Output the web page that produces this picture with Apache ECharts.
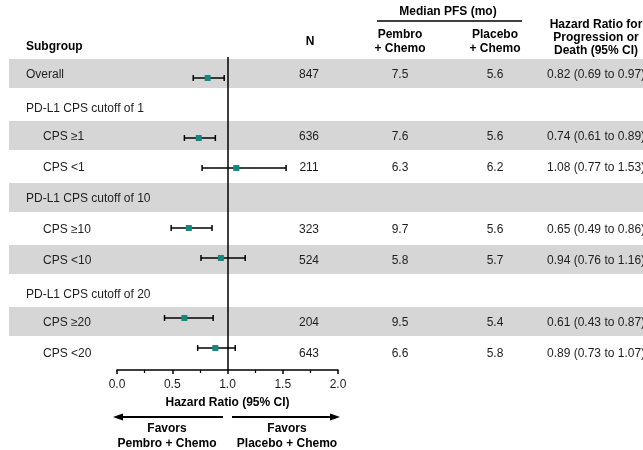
<!DOCTYPE html>
<html><head><meta charset="utf-8">
<script src="https://cdn.jsdelivr.net/npm/echarts@6/dist/echarts.min.js"></script>
<style>html,body{margin:0;padding:0;background:#fff}#c{width:643px;height:450px}</style>
</head><body><div id="c"></div>
<script>
// ---------------- data ----------------
const rowLabels = ['Overall', 'PD-L1 CPS cutoff of 1', 'CPS ≥1', 'CPS <1', 'PD-L1 CPS cutoff of 10', 'CPS ≥10', 'CPS <10', 'PD-L1 CPS cutoff of 20', 'CPS ≥20', 'CPS <20'];
const rowLevel = [0, 0, 1, 1, 0, 1, 1, 0, 1, 1];
const nPatients = [847, null, 636, 211, null, 323, 524, null, 204, 643];
const pembroMedian = [7.5, null, 7.6, 6.3, null, 9.7, 5.8, null, 9.5, 6.6];
const placeboMedian = [5.6, null, 5.6, 6.2, null, 5.6, 5.7, null, 5.4, 5.8];
const hazardRatio = [0.82, null, 0.74, 1.08, null, 0.65, 0.94, null, 0.61, 0.89];
const ciLow = [0.69, null, 0.61, 0.77, null, 0.49, 0.76, null, 0.43, 0.73];
const ciHigh = [0.97, null, 0.89, 1.53, null, 0.86, 1.16, null, 0.87, 1.07];
const shadedRows = [0, 2, 4, 6, 8];
const xTickValues = [0, 0.5, 1, 1.5, 2];

// ---------------- layout ----------------
const FONT = '"Liberation Sans", Arial, Helvetica, sans-serif';
const INK = '#1e1e1e';
const TEAL = '#14897b';
const BAND = '#d6d6d6';
const GRID_TOP = 57, GRID_H = 313, GRID_LEFT = 117, GRID_RIGHT = 305;
const ROW_PITCH = 31, FIRST_ROW_Y = 73.5;   // table rows
const MARK_PITCH = 30, FIRST_MARK_Y = 78;   // forest marks
const rowMin = -(FIRST_ROW_Y - GRID_TOP) / ROW_PITCH;
const rowMax = rowMin + GRID_H / ROW_PITCH;
const markMin = -(FIRST_MARK_Y - GRID_TOP) / MARK_PITCH;
const markMax = markMin + GRID_H / MARK_PITCH;
const COL = { sub: 26, subIndent: 43, n: 309, pembro: 400, placebo: 495, hr: 547 };

function T(x, y, text, o) {
  o = o || {};
  const a = o.align || 'left';
  return {
    type: 'text', x: x, y: y, z2: 10,
    style: {
      text: text, fill: o.fill || INK, fontSize: o.size || 12, fontFamily: FONT,
      fontWeight: o.bold ? 'bold' : 'normal', lineHeight: o.lh || 14,
      align: a, textAlign: a, verticalAlign: 'middle', textVerticalAlign: 'middle'
    }
  };
}

const markData = [];
hazardRatio.forEach((v, i) => { if (v != null) markData.push([v, i, ciLow[i], ciHigh[i]]); });

const chart = echarts.init(document.getElementById('c'), null, { renderer: 'canvas' });
chart.setOption({
  animation: false,
  backgroundColor: '#fff',
  grid: { left: GRID_LEFT, right: GRID_RIGHT, top: GRID_TOP, height: GRID_H, containLabel: false },
  xAxis: {
    type: 'value', min: xTickValues[0], max: xTickValues[xTickValues.length - 1], interval: 0.5,
    position: 'bottom', z: 6,
    axisLine: { show: true, onZero: false, lineStyle: { color: '#000', width: 1.5 } },
    axisTick: { show: true, length: 4, lineStyle: { color: '#000', width: 1.5 } },
    minorTick: { show: true, splitNumber: 2, length: 3, lineStyle: { color: '#000', width: 1.2 } },
    splitLine: { show: false },
    axisLabel: { color: INK, fontSize: 12, fontFamily: FONT, margin: 9, formatter: v => v.toFixed(1) },
    name: 'Hazard Ratio (95% CI)', nameLocation: 'middle', nameGap: 27,
    nameTextStyle: { color: '#000', fontSize: 12, fontWeight: 'bold', fontFamily: FONT }
  },
  yAxis: [
    { type: 'value', min: rowMin, max: rowMax, inverse: true, show: false },
    { type: 'value', min: markMin, max: markMax, inverse: true, show: false }
  ],
  series: [
    { // shaded row bands
      type: 'custom', yAxisIndex: 0, z: 1, silent: true,
      data: shadedRows.map(r => [0, r]),
      encode: { x: 0, y: 1 },
      renderItem: function (params, api) {
        const c = api.coord([0, api.value(1)]);
        return { type: 'rect', shape: { x: 9, y: c[1] - 14.5, width: 640, height: 29 }, style: { fill: BAND } };
      }
    },
    { // table text
      type: 'custom', yAxisIndex: 0, z: 5, silent: true,
      data: rowLabels.map((_, i) => [0, i]),
      encode: { x: 0, y: 1 },
      renderItem: function (params, api) {
        const i = api.value(1);
        const shaded = shadedRows.indexOf(i) >= 0;
        const dy = (rowLevel[i] === 0 && !shaded) ? 4 : 1;
        const y = api.coord([0, i])[1] + dy;
        const kids = [T(rowLevel[i] ? COL.subIndent : COL.sub, y, rowLabels[i])];
        if (nPatients[i] != null) kids.push(T(COL.n, y, String(nPatients[i]), { align: 'center' }));
        if (pembroMedian[i] != null) kids.push(T(COL.pembro, y, pembroMedian[i].toFixed(1), { align: 'center' }));
        if (placeboMedian[i] != null) kids.push(T(COL.placebo, y, placeboMedian[i].toFixed(1), { align: 'center' }));
        if (hazardRatio[i] != null) kids.push(T(COL.hr, y,
          hazardRatio[i].toFixed(2) + ' (' + ciLow[i].toFixed(2) + ' to ' + ciHigh[i].toFixed(2) + ')'));
        return { type: 'group', children: kids };
      }
    },
    { // reference line at HR = 1
      type: 'scatter', yAxisIndex: 1, data: [], z: 3,
      markLine: {
        silent: true, symbol: 'none', animation: false,
        label: { show: false },
        lineStyle: { color: '#000', width: 1.5, type: 'solid' },
        data: [{ xAxis: 1 }]
      }
    },
    { // error bars + square markers
      type: 'custom', yAxisIndex: 1, z: 4, silent: true,
      data: markData,
      encode: { x: [0, 2, 3], y: 1 },
      renderItem: function (params, api) {
        const row = api.value(1);
        const p = api.coord([api.value(0), row]);
        const l = api.coord([api.value(2), row]);
        const h = api.coord([api.value(3), row]);
        const ls = { stroke: '#000', lineWidth: 1.5 };
        return {
          type: 'group', children: [
            { type: 'line', shape: { x1: l[0], y1: p[1], x2: h[0], y2: p[1] }, style: ls },
            { type: 'line', shape: { x1: l[0], y1: p[1] - 3, x2: l[0], y2: p[1] + 3 }, style: ls },
            { type: 'line', shape: { x1: h[0], y1: p[1] - 3, x2: h[0], y2: p[1] + 3 }, style: ls },
            { type: 'rect', shape: { x: p[0] - 3, y: p[1] - 3, width: 6, height: 6 }, style: { fill: TEAL } }
          ]
        };
      }
    }
  ],
  graphic: { elements: [
    T(26, 47, 'Subgroup', { bold: true, fill: '#000' }),
    T(310, 42, 'N', { bold: true, fill: '#000', align: 'center' }),
    T(448, 12, 'Median PFS (mo)', { bold: true, fill: '#000', align: 'center' }),
    { type: 'line', shape: { x1: 377, y1: 21, x2: 522, y2: 21 }, style: { stroke: '#000', lineWidth: 1.5 } },
    T(400, 42, 'Pembro\n+ Chemo', { bold: true, fill: '#000', align: 'center', lh: 14 }),
    T(495, 42, 'Placebo\n+ Chemo', { bold: true, fill: '#000', align: 'center', lh: 14 }),
    T(596, 38, 'Hazard Ratio for\nProgression or\nDeath (95% CI)', { bold: true, fill: '#000', align: 'center', lh: 13 }),
    // arrows
    { type: 'line', shape: { x1: 120, y1: 417, x2: 223, y2: 417 }, style: { stroke: '#000', lineWidth: 2.2 } },
    { type: 'polygon', shape: { points: [[113, 417], [123, 413.5], [123, 420.5]] }, style: { fill: '#000' } },
    { type: 'line', shape: { x1: 232, y1: 417, x2: 333, y2: 417 }, style: { stroke: '#000', lineWidth: 2.2 } },
    { type: 'polygon', shape: { points: [[340, 417], [330, 413.5], [330, 420.5]] }, style: { fill: '#000' } },
    T(167, 436.5, 'Favors\nPembro + Chemo', { bold: true, fill: '#000', align: 'center', lh: 15 }),
    T(287, 436.5, 'Favors\nPlacebo + Chemo', { bold: true, fill: '#000', align: 'center', lh: 15 })
  ] }
});
</script>
</body></html>
